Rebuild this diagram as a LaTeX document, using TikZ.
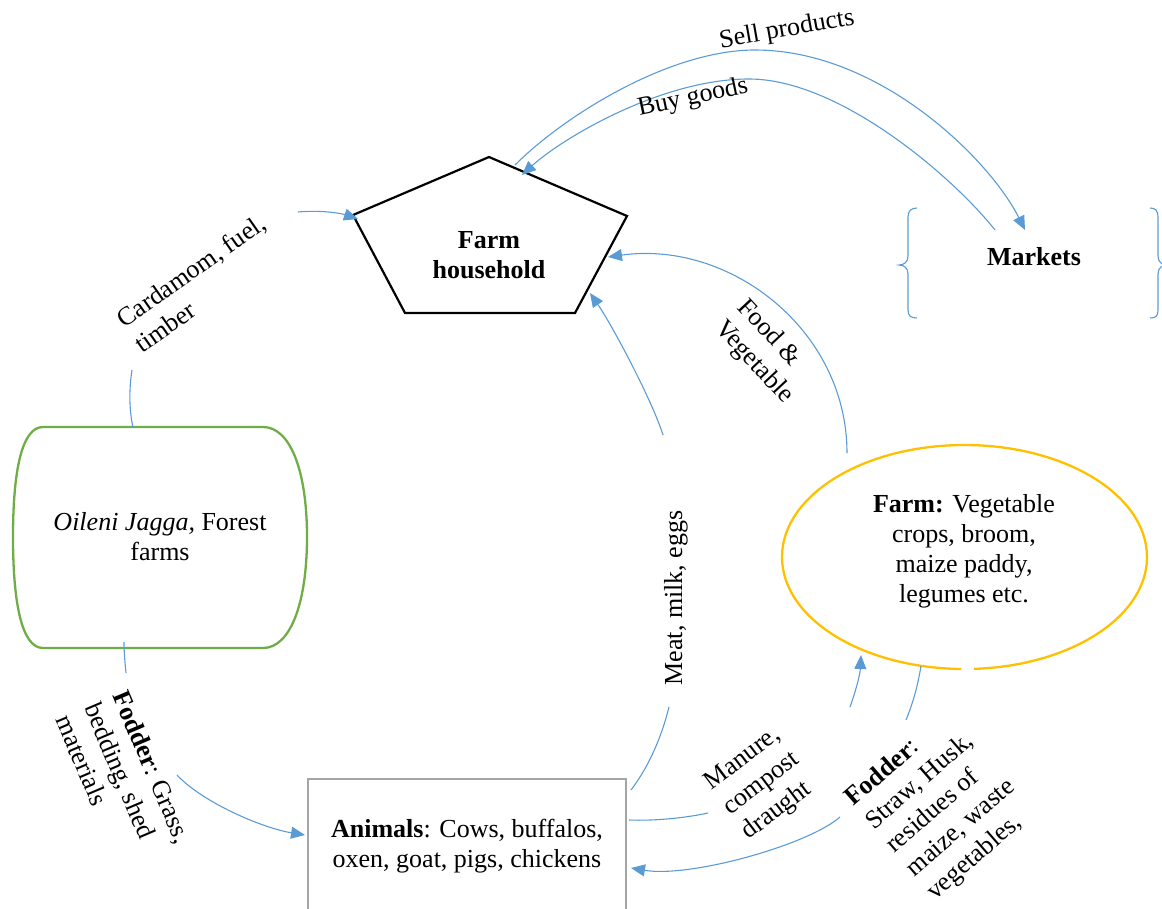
\documentclass[tikz,border=0pt]{standalone}
\usepackage{fontspec}
\setmainfont{Liberation Serif}
\usetikzlibrary{arrows.meta}
\definecolor{cblue}{HTML}{5B9BD5}
\definecolor{cgreen}{HTML}{70AD47}
\definecolor{cgold}{HTML}{FFC000}
\definecolor{cgray}{HTML}{A5A5A5}
\newcommand\mybxfont{\fontsize{26}{30}\selectfont}
\newcommand\mylbfont{\fontsize{26}{31}\selectfont}
\begin{document}
\begin{tikzpicture}[x=1pt,y=-1pt,
  conn/.style={draw=cblue, line width=1.1pt},
  arr/.style={conn, -{Triangle[length=14pt,width=12pt]}},
  lbl/.style={font=\mylbfont, inner sep=0pt, align=left},
  boxtext/.style={font=\mybxfont, inner sep=0pt, align=center},
  bracestyle/.style={draw=cblue, line width=1.1pt}]
\useasboundingbox (0,0) rectangle (1162,908);

% ---- Farm household (pentagon)
\draw[line width=2.2pt, line join=miter] (489,157) -- (627,216) -- (575,313) -- (405,313) -- (353,215) -- cycle;
\node[boxtext] (hh) at (489,255) {\textbf{Farm}\\\textbf{household}};

% ---- Markets
\node[boxtext] (mk) at (1034,257) {\textbf{Markets}};
\draw[bracestyle] (917,208) .. controls (911,208) and (908,211) .. (908,217) -- (908,256)
  .. controls (908,262) and (904,265) .. (899,265) .. controls (904,265) and (908,268) .. (908,274)
  -- (908,310) .. controls (908,316) and (911,318) .. (917,318);
\draw[bracestyle] (1150,208) .. controls (1156,208) and (1158,211) .. (1158,217) -- (1158,256)
  .. controls (1158,262) and (1162,265) .. (1167,265) .. controls (1162,265) and (1158,268) .. (1158,274)
  -- (1158,310) .. controls (1158,316) and (1156,318) .. (1150,318);

% ---- Forest farms
\draw[cgreen, line width=2.3pt] (43,427) -- (263,427) .. controls (290,427) and (307,470) .. (307,537)
  .. controls (307,604) and (290,648) .. (263,648) -- (43,648)
  .. controls (22,648) and (13,604) .. (13,537) .. controls (13,470) and (22,427) .. (43,427) -- cycle;
\node[boxtext] (forest) at (160,537) {\textit{Oileni Jagga,} Forest\\farms};

% ---- Farm (ellipse with small gap)
\draw[cgold, line width=2.3pt] (964.5,557) ++(9.55,111.85) arc[start angle=-87, end angle=269, x radius=182.5pt, y radius=112pt];
\node[boxtext] (farm) at (964,551) {\textbf{Farm:} Vegetable\\crops, broom,\\maize paddy,\\legumes etc.};

% ---- Animals
\draw[cgray, line width=2pt] (308,779) rectangle (626,935);
\node[boxtext] (an) at (467,846) {\textbf{Animals}: Cows, buffalos,\\oxen, goat, pigs, chickens};

% ---- Sell / Buy
\coordinate (sellS) at (515,165); \coordinate (sellM) at (755,50); \coordinate (sellE) at (1025,230);
\draw[arr] (sellS) .. controls (565,115) and (670,50) .. (sellM) .. controls (880,50) and (990,160) .. (sellE);
\coordinate (buyS) at (995,230); \coordinate (buyM) at (749,79); \coordinate (buyE) at (522,175);
\draw[arr] (buyS) .. controls (954,178) and (840,79) .. (buyM) .. controls (660,79) and (560,140) .. (buyE);
\node[lbl, rotate=10] (lsell) at (787,30) {Sell products};
\node[lbl, rotate=12] (lbuy) at (693,98) {Buy goods};

% ---- Cardamom
\coordinate (cfA) at (133,428); \coordinate (cfB) at (132,370);
\coordinate (cfC) at (298,212); \coordinate (cfD) at (358,219);
\draw[conn] (cfA) .. controls (129,408) and (129,390) .. (cfB);
\draw[arr] (cfC) .. controls (320,210) and (340,213) .. (cfD);
\node[lbl, rotate=35] (lcard) at (200,283) {Cardamom, fuel,\\timber};

% ---- Fodder (forest -> animals)
\coordinate (ffA) at (124,642); \coordinate (ffB) at (126,673);
\coordinate (ffC) at (177,775); \coordinate (ffD) at (305,835);
\draw[conn] (ffA) .. controls (124,652) and (125,663) .. (ffB);
\draw[arr] (ffC) .. controls (202,802) and (262,828) .. (ffD);
\node[lbl, rotate=-67] (lff) at (124,779) {\textbf{Fodder}: Grass,\\bedding, shed\\materials};

% ---- Meat, milk, eggs
\coordinate (mtA) at (631,790); \coordinate (mtB) at (669,707);
\coordinate (mtC) at (663,435); \coordinate (mtD) at (590,293);
\draw[conn] (mtA) .. controls (650,765) and (662,735) .. (mtB);
\draw[arr] (mtC) .. controls (652,400) and (612,325) .. (mtD);
\node[lbl, rotate=90] (lmeat) at (676,598) {Meat, milk, eggs};

% ---- Food & Vegetable
\coordinate (fvA) at (847,453); \coordinate (fvB) at (608,257);
\draw[arr] (fvA) .. controls (847,330) and (730,240) .. (fvB);
\node[lbl, rotate=-47] (lfood) at (765,352) {Food \&\\Vegetable};

% ---- Manure
\coordinate (mnA) at (629,820); \coordinate (mnB) at (708,813);
\coordinate (mnC) at (850,707); \coordinate (mnD) at (861,655);
\draw[conn] (mnA) .. controls (655,821) and (685,818) .. (mnB);
\draw[arr] (mnC) .. controls (856,690) and (860,675) .. (mnD);
\node[lbl, rotate=37] (lman) at (762,784) {Manure,\\compost\\draught};

% ---- Fodder (farm -> animals)
\coordinate (frA) at (921,666); \coordinate (frB) at (906,720);
\coordinate (frC) at (840,817); \coordinate (frD) at (631,868);
\draw[conn] (frA) .. controls (917,690) and (912,705) .. (frB);
\draw[arr] (frC) .. controls (808,845) and (690,878) .. (frD);
\node[lbl, rotate=41] (lfr) at (941,805) {\textbf{Fodder}:\\Straw, Husk,\\residues of\\maize, waste\\vegetables,};
\end{tikzpicture}
\end{document}
